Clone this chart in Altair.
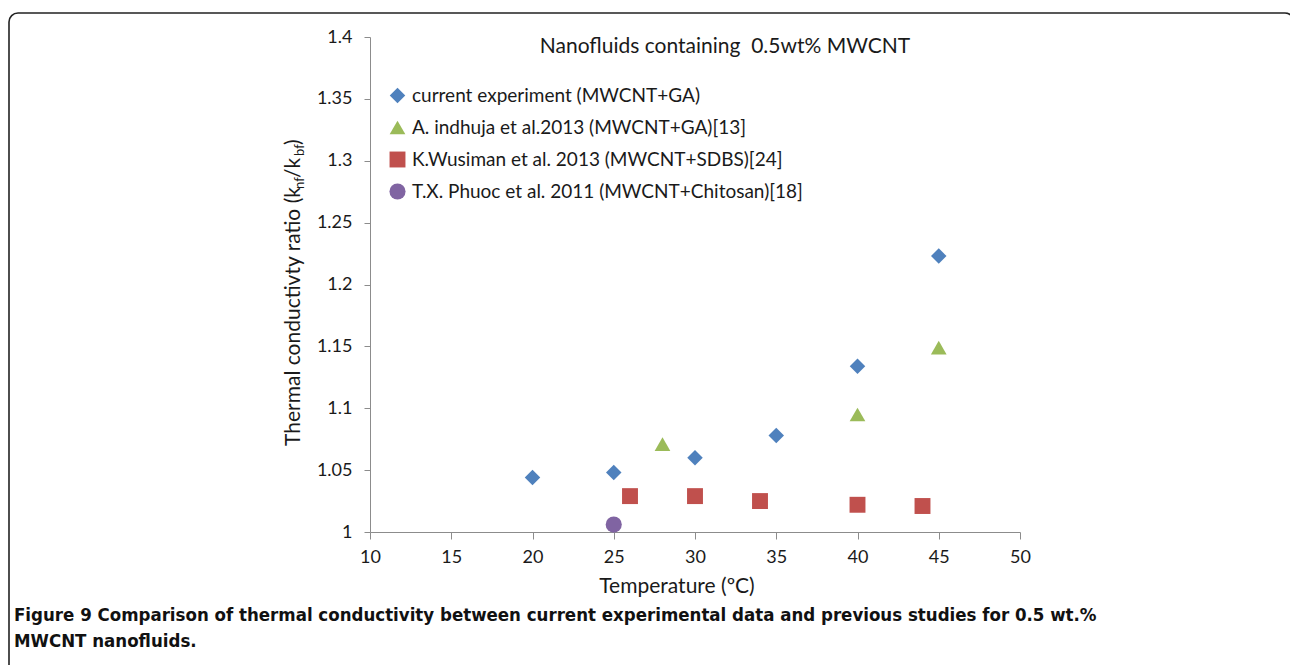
import altair as alt
import pandas as pd

# ---- data ----
series_names = [
    "current experiment (MWCNT+GA)",
    "A. indhuja et al.2013 (MWCNT+GA)[13]",
    "K.Wusiman et al. 2013 (MWCNT+SDBS)[24]",
    "T.X. Phuoc et al. 2011 (MWCNT+Chitosan)[18]",
]
current_t = [20, 25, 30, 35, 40, 45]
current_k = [1.044, 1.048, 1.060, 1.078, 1.134, 1.223]
indhuja_t = [28, 40, 45]
indhuja_k = [1.071, 1.095, 1.149]
wusiman_t = [26, 30, 34, 40, 44]
wusiman_k = [1.029, 1.029, 1.025, 1.022, 1.021]
phuoc_t = [25]
phuoc_k = [1.006]

series_colors = ["#4F81BD", "#9BBB59", "#C0504D", "#8064A2"]
series_shapes = ["diamond", "triangle-up", "square", "circle"]
series_sizes = [240, 260, 290, 100]

x_ticks = [10, 15, 20, 25, 30, 35, 40, 45, 50]
y_ticks = [1.0, 1.05, 1.1, 1.15, 1.2, 1.25, 1.3, 1.35, 1.4]

chart_title = "Nanofluids containing \u00a00.5wt% MWCNT"
x_title = "Temperature (ºC)"
y_title_parts = ["Thermal conductivty ratio (k", "nf", "/k", "bf", ")"]
caption_lines = [
    "Figure 9 Comparison of thermal conductivity between current experimental data and previous studies for 0.5 wt.%",
    "MWCNT nanofluids.",
]

FONT = "Lato"
CAP_FONT = "DejaVu Sans Condensed, Roboto, sans-serif"
W, H = 650, 495
LEFT, TOP = 370, 37

rows = []
for name, ts, ks in [
    (series_names[0], current_t, current_k),
    (series_names[1], indhuja_t, indhuja_k),
    (series_names[2], wusiman_t, wusiman_k),
    (series_names[3], phuoc_t, phuoc_k),
]:
    for t, k in zip(ts, ks):
        rows.append({"series": name, "T": t, "k": k})
df = pd.DataFrame(rows)

points = alt.Chart(df).mark_point(filled=True, opacity=1).encode(
    x=alt.X("T:Q", scale=alt.Scale(domain=[10, 50], nice=False),
            axis=alt.Axis(values=x_ticks, title=None, grid=False, tickSize=7,
                          labelFontSize=18, labelPadding=9, labelFlush=False,
                          domainColor="#8c8c8c", tickColor="#8c8c8c",
                          labelColor="#1a1a1a", labelFont=FONT)),
    y=alt.Y("k:Q", scale=alt.Scale(domain=[1.0, 1.4], nice=False, zero=False),
            axis=alt.Axis(values=y_ticks, title=None, grid=False, tickSize=6,
                          labelFontSize=18, labelPadding=12, format="~g", labelFlush=False,
                          domainColor="#8c8c8c", tickColor="#8c8c8c",
                          labelColor="#1a1a1a", labelFont=FONT)),
    color=alt.Color("series:N", scale=alt.Scale(domain=series_names, range=series_colors),
                    legend=alt.Legend(title=None, orient="none", legendX=18, legendY=49,
                                      labelFontSize=19, labelFont=FONT, labelColor="#1a1a1a",
                                      symbolSize=130, rowPadding=12, labelOffset=5,
                                      labelLimit=600)),
    shape=alt.Shape("series:N", scale=alt.Scale(domain=series_names, range=series_shapes)),
    size=alt.Size("series:N", scale=alt.Scale(domain=series_names, range=series_sizes), legend=None),
)

one = pd.DataFrame({"a": [0]})

frame = alt.Chart(one).mark_rect(fillOpacity=0, stroke="#222222", strokeWidth=1.6,
                                 cornerRadius=9, clip=False).encode(
    x=alt.value(9 - LEFT), x2=alt.value(1294 - LEFT),
    y=alt.value(13 - TOP), y2=alt.value(700 - TOP))

title_mark = alt.Chart(pd.DataFrame({"t": [chart_title]})).mark_text(
    fontSize=21, font=FONT, color="#1a1a1a", align="center", baseline="alphabetic").encode(
    text="t:N", x=alt.value(725 - LEFT), y=alt.value(53 - TOP))

xtitle_mark = alt.Chart(pd.DataFrame({"t": [x_title]})).mark_text(
    fontSize=21, font=FONT, color="#1a1a1a", align="center", baseline="alphabetic").encode(
    text="t:N", x=alt.value(677 - LEFT), y=alt.value(593 - TOP))

# y-axis title assembled with subscripts
yt_x_main = 300 - LEFT
yt_x_sub = 304 - LEFT
yt_start = [446, 189, 178, 156, 145]
yt_layers = []
for i, part in enumerate(y_title_parts):
    is_sub = i in (1, 3)
    yt_layers.append(
        alt.Chart(pd.DataFrame({"t": [part]})).mark_text(
            fontSize=13 if is_sub else 21, font=FONT, color="#1a1a1a", angle=270,
            align="left", baseline="alphabetic").encode(
            text="t:N", x=alt.value(yt_x_sub if is_sub else yt_x_main),
            y=alt.value(yt_start[i] - TOP)))

cap1 = alt.Chart(pd.DataFrame({"t": [caption_lines[0]]})).mark_text(
    fontSize=18.5, font=CAP_FONT, fontWeight="bold", color="#111111",
    align="left", baseline="middle").encode(
    text="t:N", x=alt.value(14 - LEFT), y=alt.value(615 - TOP))
cap2 = alt.Chart(pd.DataFrame({"t": [caption_lines[1]]})).mark_text(
    fontSize=18.5, font=CAP_FONT, fontWeight="bold", color="#111111",
    align="left", baseline="middle").encode(
    text="t:N", x=alt.value(14 - LEFT), y=alt.value(641 - TOP))

chart = alt.layer(frame, points, title_mark, xtitle_mark, *yt_layers, cap1, cap2).properties(
    width=W, height=H,
    autosize=alt.AutoSizeParams(type="none"),
    padding={"left": LEFT, "top": TOP, "right": 1290 - LEFT - W, "bottom": 665 - TOP - H},
    background="white",
).configure_view(stroke=None)

chart.save("out.html", embed_options={"renderer": "svg", "actions": False})
